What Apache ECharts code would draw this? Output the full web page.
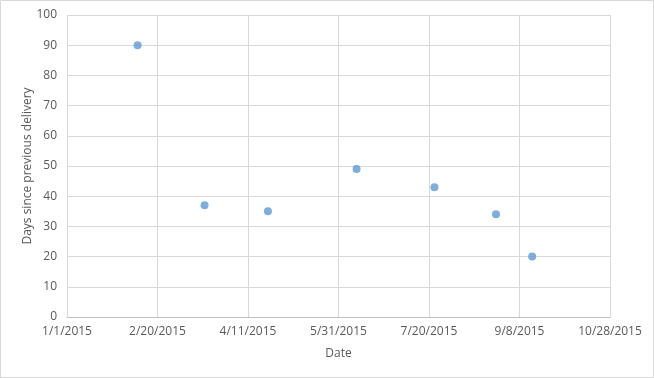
<!DOCTYPE html>
<html>
<head>
<meta charset="utf-8">
<script src="https://cdn.jsdelivr.net/npm/echarts@6/dist/echarts.min.js"></script>
<style>
html,body{margin:0;padding:0;background:#fff;}
#chart{width:654px;height:378px;}
</style>
</head>
<body>
<div id="chart"></div>
<script>
// Data
var deliveryDates = ['2015-02-09','2015-03-18','2015-04-22','2015-06-10','2015-07-23','2015-08-26','2015-09-15'];
var daysSincePrevious = [90, 37, 35, 49, 43, 34, 20];
var xTickLabels = ['1/1/2015','2/20/2015','4/11/2015','5/31/2015','7/20/2015','9/8/2015','10/28/2015'];
var yTickLabels = [0,10,20,30,40,50,60,70,80,90,100];
var startDate = '2015-01-01';

var DAY = 86400000;
var t0 = Date.parse(startDate + 'T00:00:00Z');
var points = deliveryDates.map(function (d, i) {
  return [Math.round((Date.parse(d + 'T00:00:00Z') - t0) / DAY), daysSincePrevious[i]];
});

var font = 'Open Sans';
var chart = echarts.init(document.getElementById('chart'), null, {renderer: 'canvas'});
chart.setOption({
  animation: false,
  backgroundColor: '#fff',
  graphic: [{
    type: 'rect', shape: {x: 0.5, y: 0.5, width: 653, height: 377},
    style: {fill: 'none', stroke: '#d9d9d9', lineWidth: 1}, silent: true
  }],
  grid: {left: 67, right: 44, top: 15, bottom: 61},
  xAxis: {
    type: 'value', min: 0, max: 300, interval: 50,
    name: 'Date', nameLocation: 'middle', nameGap: 31, nameMoveOverlap: false,
    nameTextStyle: {color: '#595959', fontSize: 12, fontFamily: font},
    axisLine: {show: true, lineStyle: {color: '#bfbfbf'}},
    axisTick: {show: false},
    axisLabel: {
      color: '#595959', fontSize: 12, fontFamily: font, margin: 9,
      formatter: function (v) { return xTickLabels[Math.round(v / 50)]; }
    },
    splitLine: {show: true, lineStyle: {color: '#d9d9d9'}}
  },
  yAxis: {
    type: 'value', min: 0, max: 100, interval: 10,
    name: 'Days since previous delivery', nameLocation: 'middle', nameGap: 33, nameMoveOverlap: false,
    nameTextStyle: {color: '#595959', fontSize: 12, fontFamily: font},
    axisLine: {show: false},
    axisTick: {show: false},
    axisLabel: {
      color: '#595959', fontSize: 12, fontFamily: font, margin: 10,
      formatter: function (v) { return String(yTickLabels[Math.round(v / 10)]); }
    },
    splitLine: {show: true, lineStyle: {color: '#d9d9d9'}}
  },
  series: [{
    type: 'scatter',
    data: points,
    symbol: 'circle',
    symbolSize: 8,
    itemStyle: {color: '#5b9bd5'}
  }]
});
</script>
</body>
</html>
